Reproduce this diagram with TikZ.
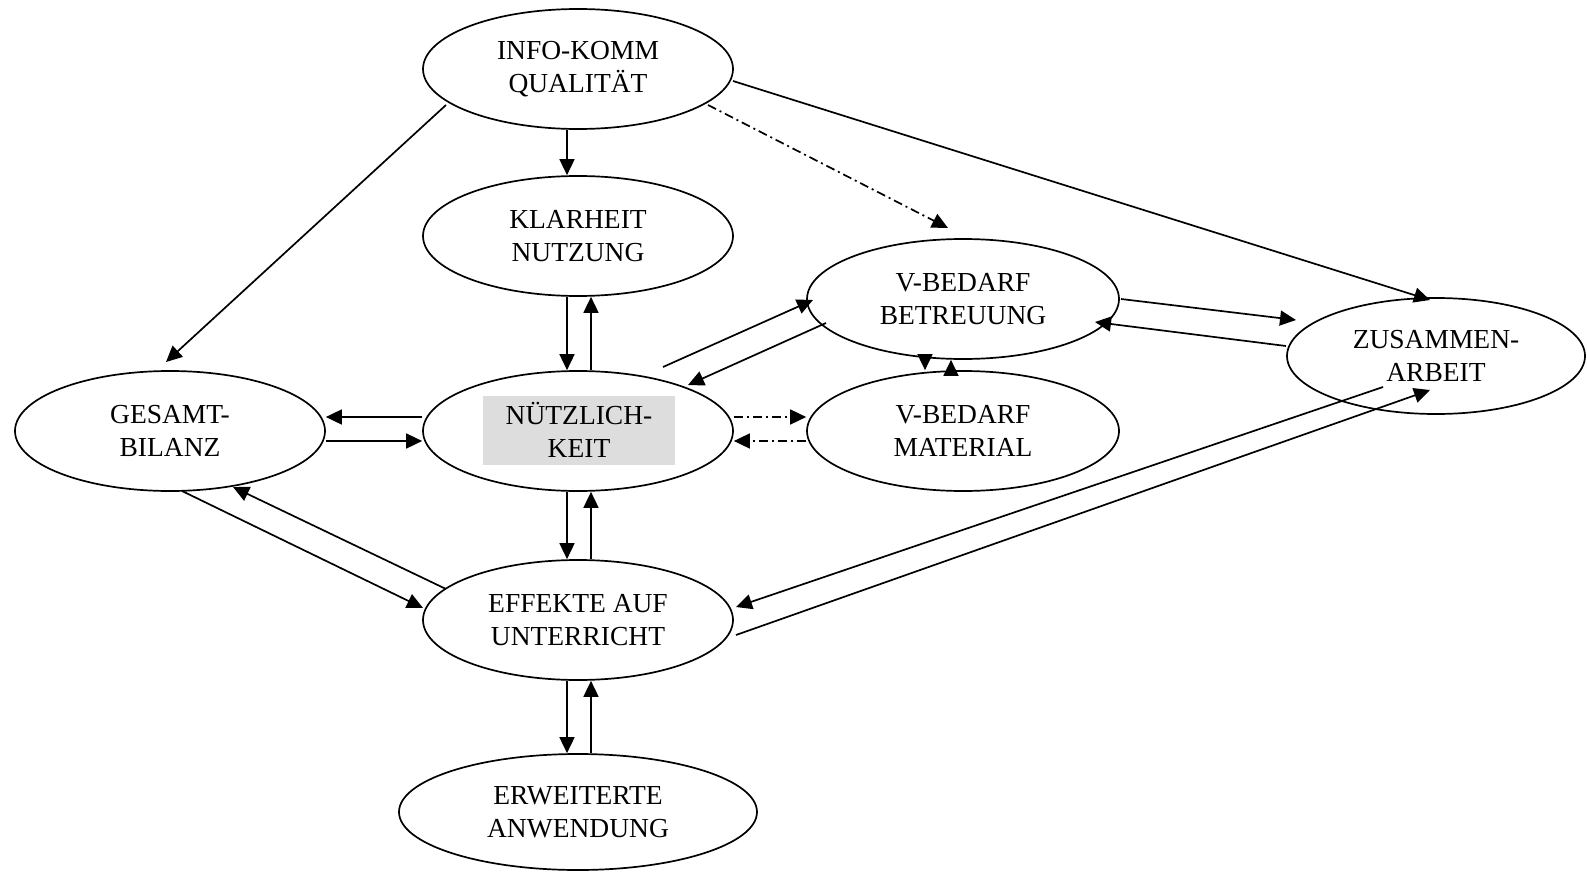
\documentclass[tikz,border=0pt]{standalone}
\usepackage{fontspec}
\setmainfont{Liberation Serif}
\usetikzlibrary{shapes.geometric,arrows.meta}
\definecolor{boxgray}{HTML}{DDDDDD}

\begin{document}
\begin{tikzpicture}[x=1pt,y=-1pt,
  blob/.style={draw,line width=1.7pt,ellipse,minimum width=310pt,minimum height=120pt,
    inner sep=0pt,align=center,font=\fontsize{27.5}{32.5}\selectfont},
  arr/.style={line width=1.7pt,-{Triangle[length=16pt,width=15pt]}},
  dashdot/.style={arr,dash pattern=on 9pt off 4pt on 2pt off 4pt}]
  \useasboundingbox (0,0) rectangle (1587,872);
  % nodes
  \node[blob] (info) at (578,69) {INFO-KOMM\\QUALITÄT};
  \node[blob] (klar) at (578,236) {KLARHEIT\\NUTZUNG};
  \node[blob,minimum width=312pt] (vbb) at (963,299) {V-BEDARF\\BETREUUNG};
  \node[blob,minimum width=298pt,minimum height=116pt] (zus) at (1436,356) {ZUSAMMEN-\\ARBEIT};
  \node[blob] (ges) at (170,431) {GESAMT-\\BILANZ};
  \node[blob] (nutz) at (578,431) {};
  \node[fill=boxgray,minimum width=192pt,minimum height=69pt,inner sep=0pt,align=center,
    font=\fontsize{27.5}{32.5}\selectfont] (nutztext) at (579,430) {NÜTZLICH-\\KEIT};
  \node[blob,minimum width=312pt] (vbm) at (963,431) {V-BEDARF\\MATERIAL};
  \node[blob] (eff) at (578,620) {EFFEKTE AUF\\UNTERRICHT};
  \node[blob,minimum width=358pt,minimum height=116pt] (erw) at (578,812) {ERWEITERTE\\ANWENDUNG};
  % vertical pairs
  \draw[arr] ([xshift=-11pt]info.south) -- ([xshift=-11pt]klar.north);
  \foreach \a/\b in {klar/nutz,nutz/eff,eff/erw} {
    \draw[arr] ([xshift=-11pt]\a.south) -- ([xshift=-11pt]\b.north);
    \draw[arr] ([xshift=13pt]\b.north) -- ([xshift=13pt]\a.south);
  }
  \draw[arr] ([xshift=-38pt]vbb.south) -- ([xshift=-38pt]vbm.north);
  \draw[arr] ([xshift=-12pt]vbm.north) -- ([xshift=-12pt]vbb.south);
  % horizontal pairs
  \draw[arr] ([yshift=14pt]nutz.west) -- ([yshift=14pt]ges.east);
  \draw[arr] ([yshift=-10pt]ges.east) -- ([yshift=-10pt]nutz.west);
  \draw[dashdot] ([yshift=14pt]nutz.east) -- ([yshift=14pt]vbm.west);
  \draw[dashdot] ([yshift=-10pt]vbm.west) -- ([yshift=-10pt]nutz.east);
  % diagonals
  \draw[arr] ([shift={(-132,36)}]info.center) -- ([shift={(-4,-69)}]ges.center);
  \draw[dashdot] ([shift={(130,36)}]info.center) -- ([shift={(-15,-71)}]vbb.center);
  \draw[arr] ([shift={(155,12)}]info.center) -- ([shift={(-6,-56)}]zus.center);
  \draw[arr] ([shift={(85,-64)}]nutz.center) -- ([shift={(-150,1)}]vbb.center);
  \draw[arr] ([shift={(-137,24)}]vbb.center) -- ([shift={(110,-46)}]nutz.center);
  \draw[arr] ([shift={(158,0)}]vbb.center) -- ([shift={(-140,-36)}]zus.center);
  \draw[arr] ([shift={(-150,-10)}]zus.center) -- ([shift={(132,23)}]vbb.center);
  \draw[arr] ([shift={(12,60)}]ges.center) -- ([shift={(-155,-12)}]eff.center);
  \draw[arr] ([shift={(-132,-31)}]eff.center) -- ([shift={(63,56)}]ges.center);
  \draw[arr] ([shift={(-53,31)}]zus.center) -- ([shift={(158,-13)}]eff.center);
  \draw[arr] ([shift={(158,15)}]eff.center) -- ([shift={(-6,34)}]zus.center);
\end{tikzpicture}
\end{document}
